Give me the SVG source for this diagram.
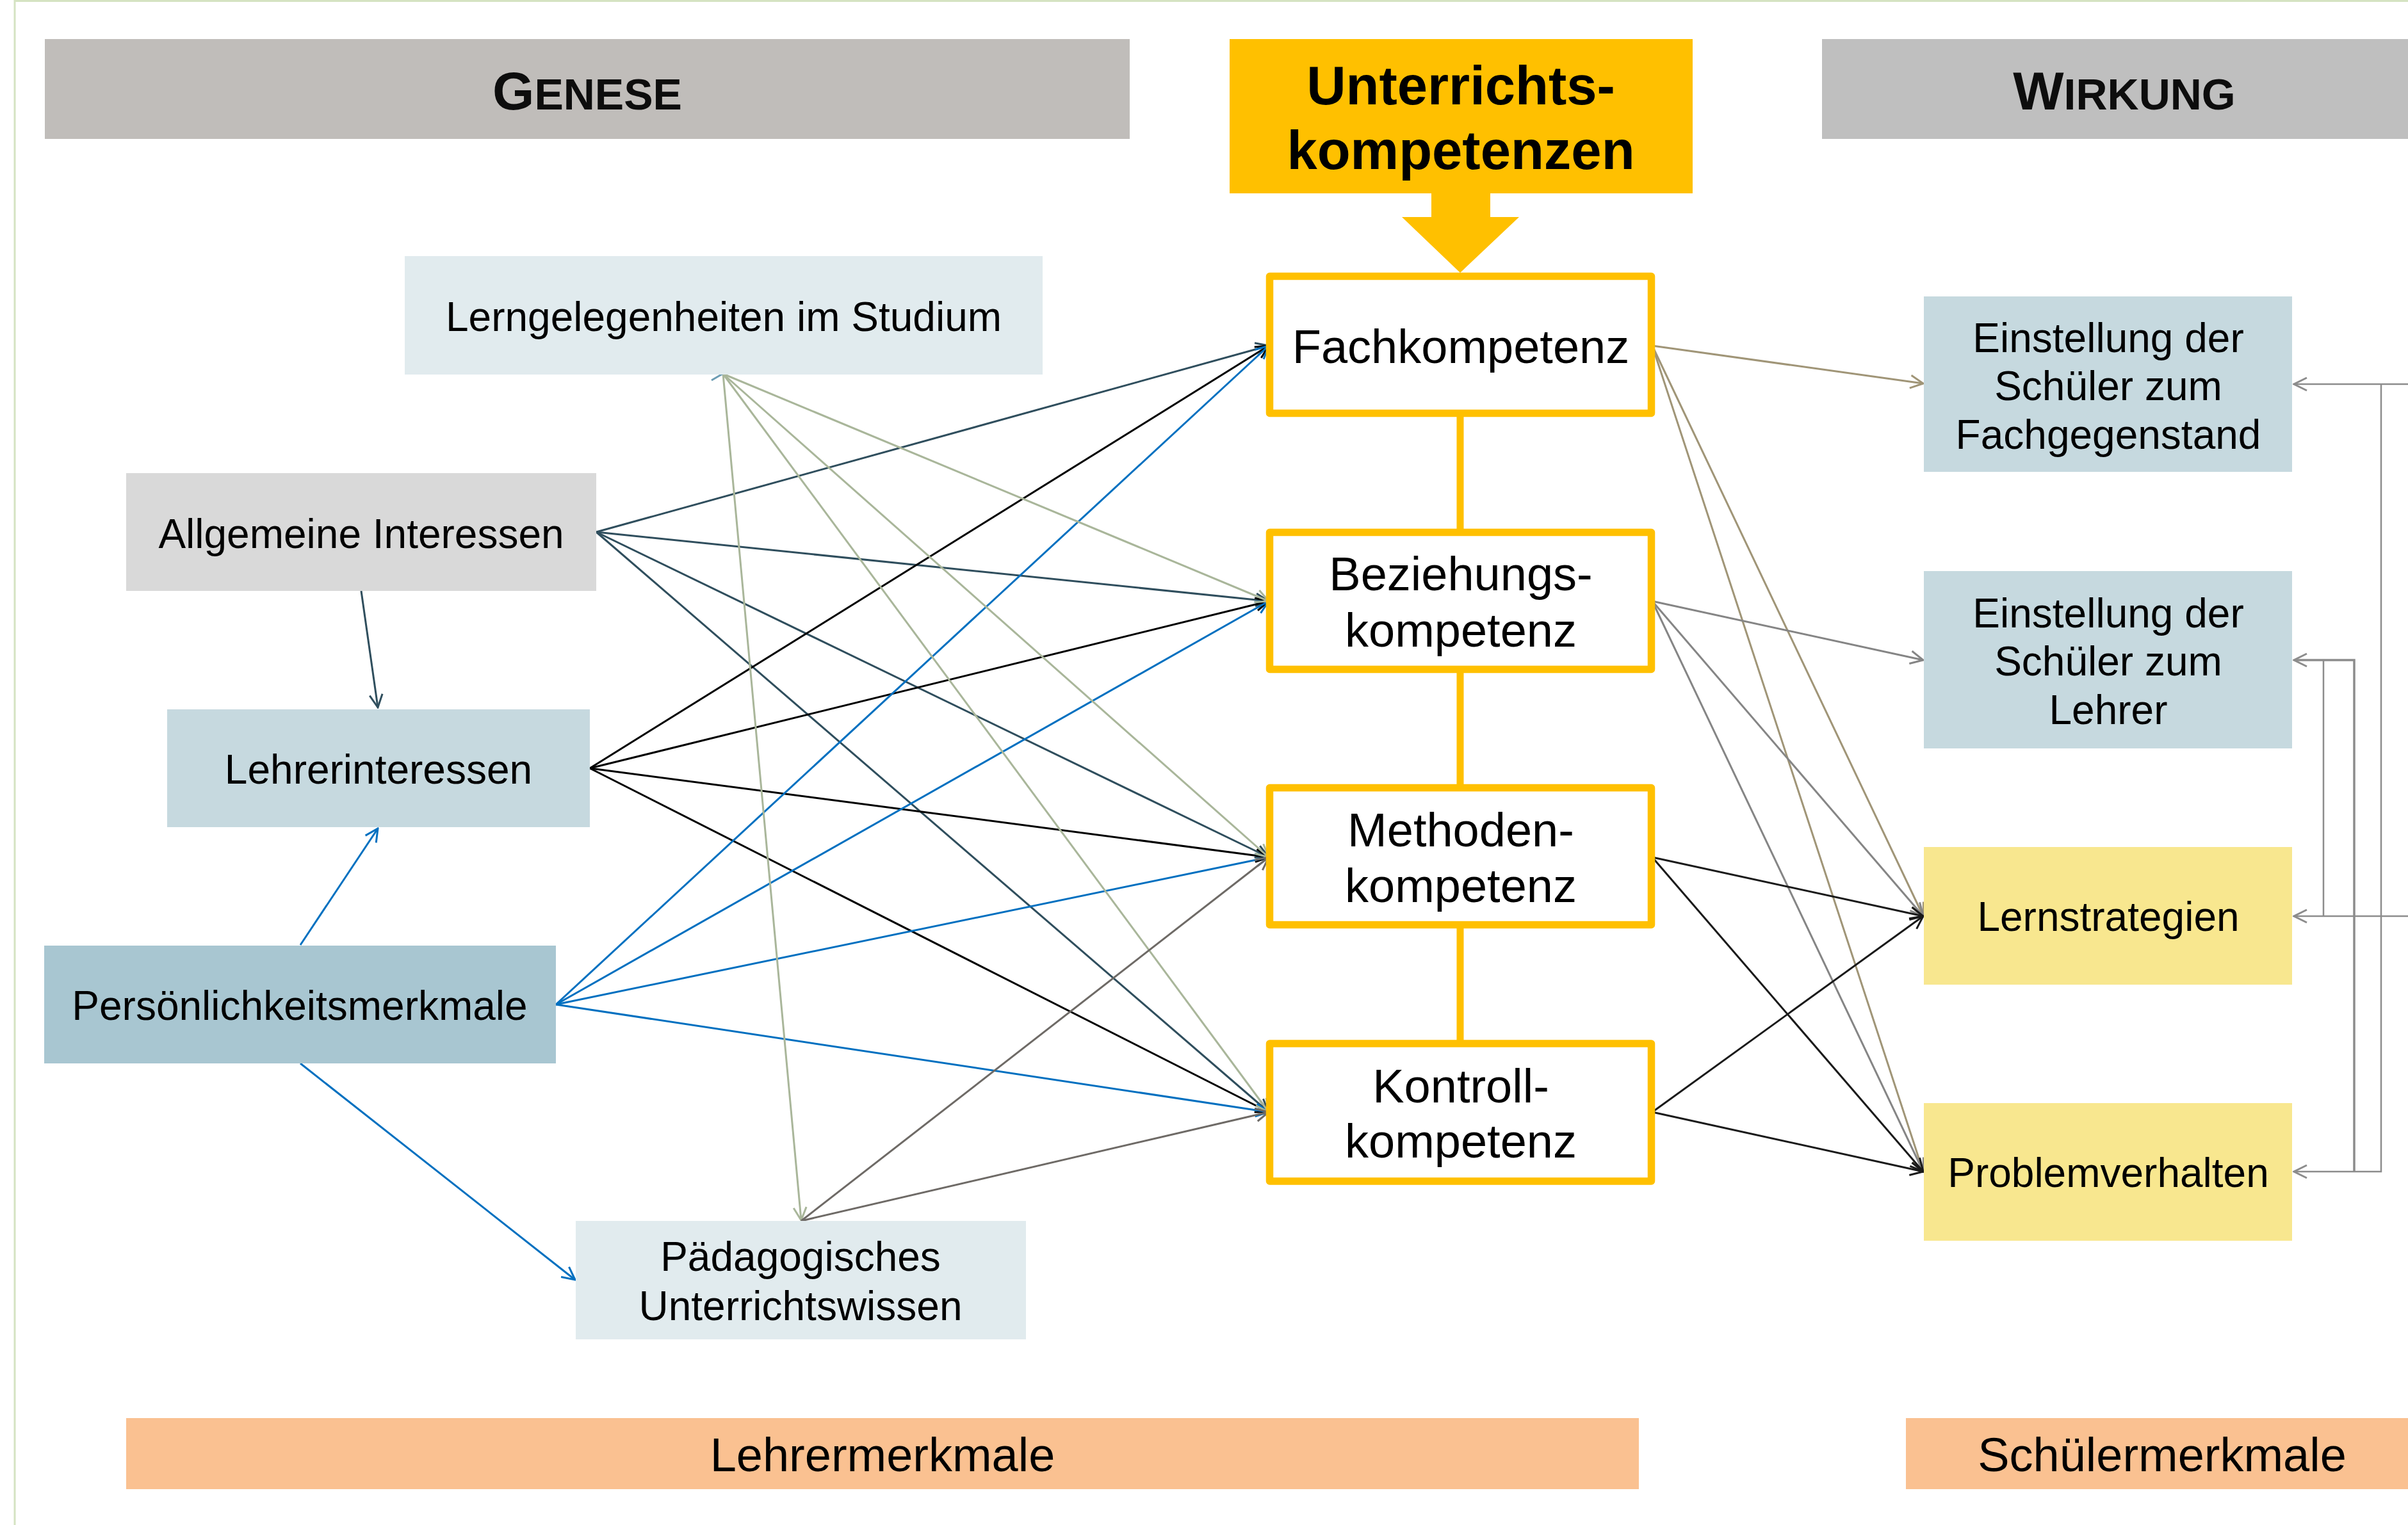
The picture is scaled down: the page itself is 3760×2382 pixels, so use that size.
<svg xmlns="http://www.w3.org/2000/svg" width="3760" height="2382" viewBox="0 0 3760 2382">
<style>
text{font-family:"Liberation Sans",Arial,sans-serif;fill:#000;text-anchor:middle}
.t{font-size:64px}
.k{font-size:74px}
.hd{font-size:84px;font-weight:bold;fill:#0d0d0d}
.hs{font-size:68px}
.comp{fill:#fff;stroke:#FFC000;stroke-width:11.5;stroke-linejoin:round}
.c{fill:none;stroke-width:3}
.slate{stroke:#2F4E5D}
.blk{stroke:#000}
.blue{stroke:#0070C0}
.lg{stroke:#A9B69A}
.gr{stroke:#6E6A66}
.tan{stroke:#A09577}
.gy{stroke:#858585}
.dk{stroke:#1A1A1A}
.fb{fill:none;stroke:#8C8C8C;stroke-width:2.5}
</style>
<defs>
<marker id="m-slate" viewBox="0 0 24 24" refX="22" refY="12" markerWidth="24" markerHeight="24" markerUnits="userSpaceOnUse" orient="auto"><path d="M2,2 L22,12 L2,22" fill="none" stroke="#2F4E5D" stroke-width="3"/></marker>
<marker id="m-blk" viewBox="0 0 24 24" refX="22" refY="12" markerWidth="24" markerHeight="24" markerUnits="userSpaceOnUse" orient="auto"><path d="M2,2 L22,12 L2,22" fill="none" stroke="#000" stroke-width="3"/></marker>
<marker id="m-blue" viewBox="0 0 24 24" refX="22" refY="12" markerWidth="24" markerHeight="24" markerUnits="userSpaceOnUse" orient="auto"><path d="M2,2 L22,12 L2,22" fill="none" stroke="#0070C0" stroke-width="3"/></marker>
<marker id="m-lg" viewBox="0 0 24 24" refX="22" refY="12" markerWidth="24" markerHeight="24" markerUnits="userSpaceOnUse" orient="auto"><path d="M2,2 L22,12 L2,22" fill="none" stroke="#A9B69A" stroke-width="3"/></marker>
<marker id="m-gr" viewBox="0 0 24 24" refX="22" refY="12" markerWidth="24" markerHeight="24" markerUnits="userSpaceOnUse" orient="auto"><path d="M2,2 L22,12 L2,22" fill="none" stroke="#6E6A66" stroke-width="3"/></marker>
<marker id="m-tan" viewBox="0 0 24 24" refX="22" refY="12" markerWidth="24" markerHeight="24" markerUnits="userSpaceOnUse" orient="auto"><path d="M2,2 L22,12 L2,22" fill="none" stroke="#A09577" stroke-width="3"/></marker>
<marker id="m-gy" viewBox="0 0 24 24" refX="22" refY="12" markerWidth="24" markerHeight="24" markerUnits="userSpaceOnUse" orient="auto"><path d="M2,2 L22,12 L2,22" fill="none" stroke="#858585" stroke-width="3"/></marker>
<marker id="m-dk" viewBox="0 0 24 24" refX="22" refY="12" markerWidth="24" markerHeight="24" markerUnits="userSpaceOnUse" orient="auto"><path d="M2,2 L22,12 L2,22" fill="none" stroke="#1A1A1A" stroke-width="3"/></marker>
<marker id="m-fb" viewBox="0 0 24 24" refX="22" refY="12" markerWidth="24" markerHeight="24" markerUnits="userSpaceOnUse" orient="auto"><path d="M2,2 L22,12 L2,22" fill="none" stroke="#8C8C8C" stroke-width="3"/></marker>
</defs>
<rect x="0" y="0" width="3760" height="2382" fill="#fff"/>
<path d="M23,2382 V1.5 H3760" fill="none" stroke="#D5E3C2" stroke-width="3"/>

<g id="header-genese"><rect x="70" y="61" width="1694" height="156" fill="#C0BDBA"/><text x="917" y="171" class="hd">G<tspan class="hs">ENESE</tspan></text></g>
<g id="header-wirkung"><rect x="2845" y="61" width="915" height="156" fill="#BFBFBF"/><text x="3317" y="171" class="hd">W<tspan class="hs">IRKUNG</tspan></text></g>
<g id="unterrichtskompetenzen"><rect x="1920" y="61" width="723" height="241" fill="#FFC000"/><text x="2281" y="163" style="font-size:85px;font-weight:bold">Unterrichts-</text><text x="2281" y="264" style="font-size:85px;font-weight:bold">kompetenzen</text>
<polygon points="2235,301 2327,301 2327,339 2372,339 2280,426 2189,339 2235,339" fill="#FFC000"/></g>

<g id="connectors">
<g class="c slate">
<line x1="931" y1="831" x2="1981" y2="540" marker-end="url(#m-slate)"/>
<line x1="931" y1="831" x2="1981" y2="939" marker-end="url(#m-slate)"/>
<line x1="931" y1="831" x2="1981" y2="1339" marker-end="url(#m-slate)"/>
<line x1="931" y1="831" x2="1981" y2="1737" marker-end="url(#m-slate)"/>
<line x1="564" y1="923" x2="590" y2="1105" marker-end="url(#m-slate)"/>
</g>
<g class="c blk">
<line x1="921" y1="1200" x2="1981" y2="540" marker-end="url(#m-blk)"/>
<line x1="921" y1="1200" x2="1981" y2="939" marker-end="url(#m-blk)"/>
<line x1="921" y1="1200" x2="1981" y2="1339" marker-end="url(#m-blk)"/>
<line x1="921" y1="1200" x2="1981" y2="1737" marker-end="url(#m-blk)"/>
</g>
<g class="c blue">
<line x1="868" y1="1569" x2="1981" y2="540" marker-end="url(#m-blue)"/>
<line x1="868" y1="1569" x2="1981" y2="939" marker-end="url(#m-blue)"/>
<line x1="868" y1="1569" x2="1981" y2="1339" marker-end="url(#m-blue)"/>
<line x1="868" y1="1569" x2="1981" y2="1737" marker-end="url(#m-blue)"/>
<line x1="469" y1="1476" x2="590" y2="1294" marker-end="url(#m-blue)"/>
<line x1="469" y1="1661" x2="898" y2="1999" marker-end="url(#m-blue)"/>
</g>
<g class="c lg">
<line x1="1129" y1="584" x2="1981" y2="939" marker-end="url(#m-lg)"/>
<line x1="1129" y1="584" x2="1981" y2="1339" marker-end="url(#m-lg)"/>
<line x1="1129" y1="584" x2="1981" y2="1737" marker-end="url(#m-lg)"/>
<line x1="1129" y1="584" x2="1251" y2="1906" marker-end="url(#m-lg)"/>
</g>
<path d="M1111,575 L1128,584 L1111,594" fill="none" stroke="#6C9DB4" stroke-width="3"/>
<g class="c gr">
<line x1="1251" y1="1907" x2="1981" y2="1339" marker-end="url(#m-gr)"/>
<line x1="1251" y1="1907" x2="1981" y2="1737" marker-end="url(#m-gr)"/>
</g>
<g class="c tan">
<line x1="2580" y1="540" x2="3003" y2="599" marker-end="url(#m-tan)"/>
<line x1="2580" y1="540" x2="3003" y2="1431" marker-end="url(#m-tan)"/>
<line x1="2580" y1="540" x2="3003" y2="1830" marker-end="url(#m-tan)"/>
</g>
<g class="c gy">
<line x1="2580" y1="939" x2="3003" y2="1031" marker-end="url(#m-gy)"/>
<line x1="2580" y1="939" x2="3003" y2="1431" marker-end="url(#m-gy)"/>
<line x1="2580" y1="939" x2="3003" y2="1830" marker-end="url(#m-gy)"/>
</g>
<g class="c dk">
<line x1="2580" y1="1339" x2="3003" y2="1431" marker-end="url(#m-dk)"/>
<line x1="2580" y1="1339" x2="3003" y2="1830" marker-end="url(#m-dk)"/>
<line x1="2580" y1="1737" x2="3003" y2="1431" marker-end="url(#m-dk)"/>
<line x1="2580" y1="1737" x2="3003" y2="1830" marker-end="url(#m-dk)"/>
</g>
<g class="fb">
<path d="M3760,600 H3582" marker-end="url(#m-fb)"/>
<path d="M3718,600 V1830 H3582" marker-end="url(#m-fb)"/>
<path d="M3760,1431 H3582" marker-end="url(#m-fb)"/>
<path d="M3628,1431 V1031"/>
<path d="M3676,1830 V1031 H3582" marker-end="url(#m-fb)" style="stroke-width:3.5"/>
</g>
<g stroke="#FFC000" stroke-width="11">
<line x1="2280" y1="650" x2="2280" y2="826"/>
<line x1="2280" y1="1050" x2="2280" y2="1225"/>
<line x1="2280" y1="1450" x2="2280" y2="1625"/>
</g>
</g>

<g id="lerngelegenheiten"><rect x="632" y="400" width="996" height="185" fill="#E1EBEE"/><text x="1130" y="517" class="t">Lerngelegenheiten im Studium</text></g>
<g id="allgemeine-interessen"><rect x="197" y="739" width="734" height="184" fill="#D9D9D9"/><text x="564" y="856" class="t">Allgemeine Interessen</text></g>
<g id="lehrerinteressen"><rect x="261" y="1108" width="660" height="184" fill="#C6D9DF"/><text x="591" y="1224" class="t">Lehrerinteressen</text></g>
<g id="persoenlichkeitsmerkmale"><rect x="69" y="1477" width="799" height="184" fill="#A8C6D1"/><text x="468" y="1593" class="t">Persönlichkeitsmerkmale</text></g>
<g id="paedagogisches-unterrichtswissen"><rect x="899" y="1907" width="703" height="185" fill="#E1EBEE"/><text x="1250" y="1985" class="t">Pädagogisches</text><text x="1250" y="2062" class="t">Unterrichtswissen</text></g>

<g id="fachkompetenz"><rect class="comp" x="1982.5" y="431.5" width="596" height="214"/><text x="2281" y="567" class="k">Fachkompetenz</text></g>
<g id="beziehungskompetenz"><rect class="comp" x="1982.5" y="831.5" width="596" height="214"/><text x="2281" y="922" class="k">Beziehungs-</text><text x="2281" y="1010" class="k">kompetenz</text></g>
<g id="methodenkompetenz"><rect class="comp" x="1982.5" y="1230.5" width="596" height="214"/><text x="2281" y="1322" class="k">Methoden-</text><text x="2281" y="1409" class="k">kompetenz</text></g>
<g id="kontrollkompetenz"><rect class="comp" x="1982.5" y="1630" width="596" height="215"/><text x="2281" y="1722" class="k">Kontroll-</text><text x="2281" y="1808" class="k">kompetenz</text></g>

<g id="einstellung-fach"><rect x="3004" y="463" width="575" height="274" fill="#C6D9DF"/><text x="3292" y="550" class="t">Einstellung der</text><text x="3292" y="625" class="t">Schüler zum</text><text x="3292" y="701" class="t">Fachgegenstand</text></g>
<g id="einstellung-lehrer"><rect x="3004" y="892" width="575" height="277" fill="#C6D9DF"/><text x="3292" y="980" class="t">Einstellung der</text><text x="3292" y="1055" class="t">Schüler zum</text><text x="3292" y="1131" class="t">Lehrer</text></g>
<g id="lernstrategien"><rect x="3004" y="1323" width="575" height="215" fill="#F8E78F"/><text x="3292" y="1454" class="t">Lernstrategien</text></g>
<g id="problemverhalten"><rect x="3004" y="1723" width="575" height="215" fill="#F8E78F"/><text x="3292" y="1854" class="t">Problemverhalten</text></g>

<g id="lehrermerkmale"><rect x="197" y="2215" width="2362" height="111" fill="#FAC191"/><text x="1378" y="2298" class="k">Lehrermerkmale</text></g>
<g id="schuelermerkmale"><rect x="2976" y="2215" width="784" height="111" fill="#FAC191"/><text x="3376" y="2298" class="k">Schülermerkmale</text></g>
</svg>
